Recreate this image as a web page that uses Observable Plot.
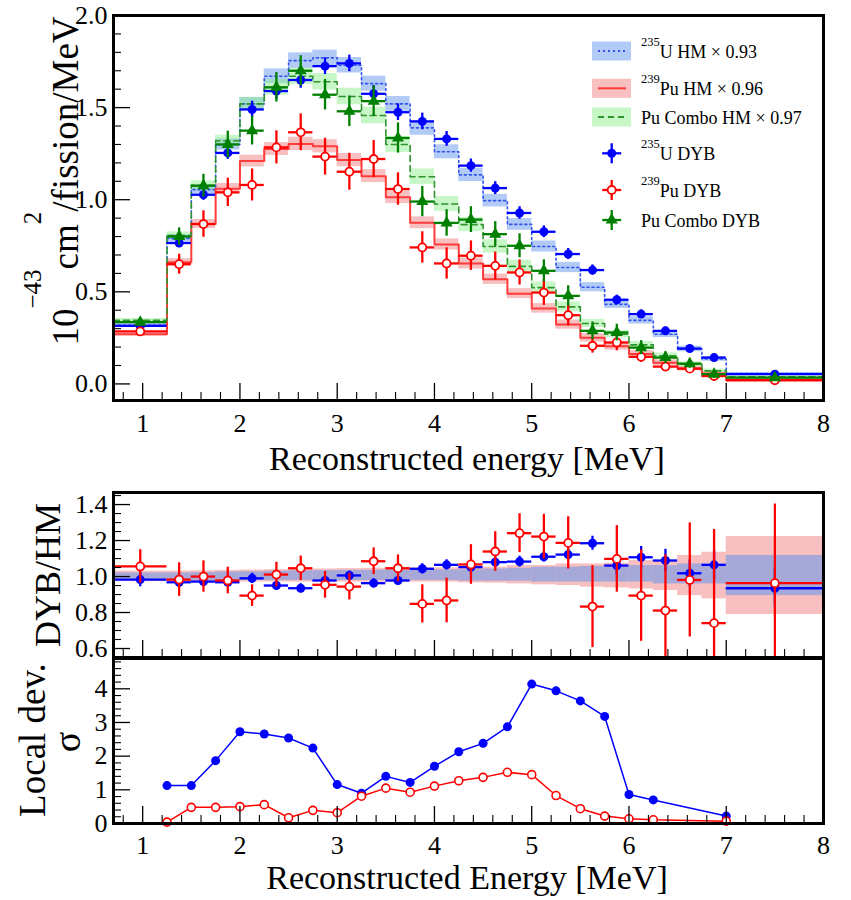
<!DOCTYPE html>
<html><head><meta charset="utf-8">
<script src="https://cdn.jsdelivr.net/npm/d3@7"></script>
<script src="https://cdn.jsdelivr.net/npm/@observablehq/plot@0.6"></script>
<style>
body{margin:0;background:#fff;}
#wrap{position:relative;width:851px;height:900px;font-family:"Liberation Serif","Times New Roman",serif;}
</style></head><body><div id="wrap"></div>
<script>
// ---------- data ----------
const edges = [0.7,1.25,1.5,1.75,2.0,2.25,2.5,2.75,3.0,3.25,3.5,3.75,4.0,4.25,4.5,4.75,5.0,5.25,5.5,5.75,6.0,6.25,6.5,6.75,7.0,8.0];

const u235HM      = [0.32,0.79,1.055,1.30,1.52,1.67,1.755,1.77,1.73,1.63,1.52,1.39,1.26,1.135,0.995,0.866,0.746,0.632,0.525,0.432,0.345,0.27,0.19,0.135,0.056];
const u235HMerr   = [0.01,0.02,0.024,0.03,0.035,0.04,0.042,0.042,0.042,0.041,0.04,0.04,0.038,0.036,0.034,0.032,0.03,0.028,0.025,0.022,0.02,0.018,0.015,0.012,0.006];
const pu239HM     = [0.27,0.66,0.868,1.06,1.21,1.275,1.303,1.29,1.215,1.128,1.013,0.875,0.757,0.654,0.568,0.49,0.41,0.322,0.25,0.205,0.163,0.115,0.084,0.056,0.022];
const pu239HMerr  = [0.01,0.02,0.024,0.028,0.032,0.035,0.036,0.036,0.036,0.035,0.034,0.032,0.03,0.03,0.028,0.027,0.026,0.025,0.023,0.021,0.018,0.016,0.013,0.01,0.006];
const puComboHM   = [0.345,0.805,1.078,1.32,1.52,1.61,1.67,1.64,1.56,1.457,1.30,1.125,0.977,0.865,0.746,0.638,0.523,0.418,0.328,0.27,0.212,0.152,0.107,0.071,0.038];
const puComboHMerr= [0.01,0.02,0.025,0.03,0.036,0.042,0.044,0.045,0.045,0.045,0.044,0.042,0.04,0.038,0.036,0.033,0.03,0.027,0.022,0.02,0.018,0.016,0.013,0.01,0.006];

const u235DYB      = [0.315,0.765,1.027,1.254,1.49,1.59,1.65,1.725,1.74,1.575,1.475,1.425,1.33,1.185,1.063,0.928,0.826,0.705,0.618,0.457,0.379,0.288,0.192,0.143,0.053];
const u235DYBerr   = [0.015,0.025,0.03,0.035,0.045,0.045,0.045,0.045,0.045,0.045,0.045,0.045,0.04,0.036,0.035,0.034,0.032,0.03,0.028,0.025,0.022,0.02,0.018,0.015,0.008];
const pu239DYB     = [0.285,0.65,0.868,1.04,1.08,1.284,1.366,1.234,1.152,1.221,1.058,0.741,0.654,0.696,0.641,0.605,0.496,0.373,0.207,0.225,0.147,0.094,0.083,0.043,0.02];
const pu239DYBerr  = [0.02,0.054,0.072,0.077,0.087,0.09,0.1,0.1,0.1,0.1,0.088,0.085,0.085,0.08,0.075,0.068,0.07,0.058,0.04,0.045,0.03,0.025,0.02,0.015,0.008];
const puComboDYB   = [0.335,0.80,1.076,1.30,1.375,1.61,1.70,1.57,1.48,1.535,1.335,0.99,0.874,0.892,0.813,0.75,0.614,0.478,0.288,0.279,0.197,0.143,0.11,0.053,0.034];
const puComboDYBerr= [0.02,0.047,0.062,0.072,0.078,0.08,0.082,0.083,0.083,0.083,0.082,0.082,0.072,0.07,0.068,0.065,0.06,0.055,0.048,0.045,0.038,0.032,0.025,0.02,0.01];

// ratio DYB/HM
const u235Ratio     = [0.983,0.968,0.972,0.968,0.99,0.95,0.935,0.978,1.006,0.963,0.978,1.043,1.065,1.052,1.08,1.083,1.11,1.122,1.185,1.061,1.107,1.089,1.018,1.065,0.935];
const u235RatioErr  = [0.04,0.03,0.028,0.028,0.028,0.025,0.025,0.025,0.025,0.025,0.025,0.028,0.028,0.03,0.03,0.03,0.03,0.032,0.039,0.055,0.06,0.062,0.074,0.083,0.106];
const pu239Ratio    = [1.056,0.983,1.0,0.978,0.894,1.011,1.046,0.954,0.944,1.085,1.046,0.848,0.867,1.067,1.139,1.241,1.222,1.187,0.833,1.098,0.894,0.811,0.981,0.741,0.963];
const pu239RatioErr = [0.093,0.093,0.087,0.074,0.06,0.068,0.068,0.074,0.074,0.074,0.074,0.106,0.124,0.11,0.11,0.108,0.124,0.145,0.228,0.185,0.254,0.31,0.317,0.52,0.44];
const u235BandLo  = [0.98,0.98,0.979,0.978,0.978,0.978,0.978,0.978,0.978,0.978,0.978,0.978,0.978,0.974,0.974,0.974,0.969,0.969,0.969,0.969,0.969,0.959,0.959,0.959,0.894];
const u235BandHi  = [1.02,1.02,1.022,1.025,1.027,1.03,1.032,1.033,1.034,1.035,1.036,1.037,1.037,1.037,1.042,1.046,1.052,1.052,1.056,1.052,1.061,1.061,1.07,1.07,1.117];
const pu239BandLo = [0.972,0.972,0.971,0.97,0.97,0.97,0.969,0.969,0.969,0.969,0.969,0.969,0.969,0.965,0.963,0.959,0.954,0.95,0.941,0.937,0.931,0.922,0.894,0.876,0.789];
const pu239BandHi = [1.03,1.03,1.032,1.034,1.036,1.038,1.04,1.042,1.044,1.046,1.047,1.048,1.048,1.048,1.052,1.061,1.061,1.07,1.07,1.074,1.089,1.089,1.117,1.135,1.222];

// local deviation
const devEnergy = [1.25,1.5,1.75,2.0,2.25,2.5,2.75,3.0,3.25,3.5,3.75,4.0,4.25,4.5,4.75,5.0,5.25,5.5,5.75,6.0,6.25,7.0];
const u235Dev   = [1.126,1.126,1.867,2.726,2.657,2.54,2.24,1.156,0.90,1.40,1.22,1.70,2.13,2.38,2.87,4.14,3.94,3.64,3.18,0.86,0.70,0.22];
const pu239Dev  = [0.04,0.48,0.48,0.50,0.56,0.17,0.39,0.32,0.81,1.05,0.93,1.11,1.27,1.37,1.52,1.45,0.83,0.44,0.22,0.14,0.11,0.07];

// tick labels
const xMajor = [1,2,3,4,5,6,7,8];
const topYMajor = [0,0.5,1.0,1.5,2.0];
const midYMajor = [0.6,0.8,1.0,1.2,1.4];
const botYMajor = [0,1,2,3,4];

// ---------- tables ----------
const bins = d3.range(edges.length - 1).map(i => ({
  lo: edges[i], hi: edges[i+1], mid: (edges[i] + edges[i+1]) / 2,
  uH: u235HM[i], uHe: u235HMerr[i], pH: pu239HM[i], pHe: pu239HMerr[i], cH: puComboHM[i], cHe: puComboHMerr[i],
  uD: u235DYB[i], uDe: u235DYBerr[i], pD: pu239DYB[i], pDe: pu239DYBerr[i], cD: puComboDYB[i], cDe: puComboDYBerr[i],
  uR: u235Ratio[i], uRe: u235RatioErr[i], pR: pu239Ratio[i], pRe: pu239RatioErr[i],
  uBl: u235BandLo[i], uBh: u235BandHi[i], pBl: pu239BandLo[i], pBh: pu239BandHi[i]
}));
const stepOf = arr => edges.map((e, i) => ({x: e, y: arr[Math.min(i, arr.length - 1)]}));
const dev = devEnergy.map((e, i) => ({e, u: u235Dev[i], p: pu239Dev[i]}));
const xMinor = d3.range(0.8, 8.0, 0.2).map(v => +v.toFixed(2)).filter(v => Math.abs(v - Math.round(v)) > 1e-6);

const BLUE = "#0000ff", RED = "#ff0000", GREEN = "#008000";
const W = 851, ML = 113, MR = 28, PW = W - ML - MR;
const FONT = '"Liberation Serif", "Times New Roman", serif';

function ticksMarks(H, yMajor, yMinor) {
  return [
    Plot.tickX(xMajor.filter(v => v < 8), {x: d => d, insetTop: H - 17, stroke: "black", strokeWidth: 1.3}),
    Plot.tickX(xMinor, {x: d => d, insetTop: H - 8, stroke: "black", strokeWidth: 1.1}),
    Plot.tickY(yMajor, {y: d => d, insetRight: PW - 17, stroke: "black", strokeWidth: 1.3}),
    Plot.tickY(yMinor, {y: d => d, insetRight: PW - 8, stroke: "black", strokeWidth: 1.1})
  ];
}
const baseStyle = {background: "transparent", fontFamily: FONT, fontSize: "26px", color: "black", overflow: "visible"};

// ---------- top panel ----------
const topH = 480, topMT = 15, topMB = 80;
const topMinor = d3.range(0.1, 2.0, 0.1).map(v => +v.toFixed(2)).filter(v => Math.abs(v * 2 - Math.round(v * 2)) > 1e-6);
const topPlot = Plot.plot({
  width: W, height: topH, marginLeft: ML, marginRight: MR, marginTop: topMT, marginBottom: topMB,
  style: baseStyle,
  x: {domain: [0.7, 8], axis: null},
  y: {domain: [-0.09, 2.0], axis: null},
  marks: [
    Plot.rect(bins, {x1: "lo", x2: "hi", y1: d => d.uH - d.uHe, y2: d => d.uH + d.uHe, fill: "#6495ed", fillOpacity: 0.5}),
    Plot.rect(bins, {x1: "lo", x2: "hi", y1: d => d.pH - d.pHe, y2: d => d.pH + d.pHe, fill: "#f08080", fillOpacity: 0.5}),
    Plot.rect(bins, {x1: "lo", x2: "hi", y1: d => d.cH - d.cHe, y2: d => d.cH + d.cHe, fill: "#90ee90", fillOpacity: 0.5}),
    Plot.line(stepOf(u235HM), {x: "x", y: "y", curve: "step-after", stroke: "#3355ee", strokeWidth: 1.6, strokeDasharray: "2,3"}),
    Plot.line(stepOf(pu239HM), {x: "x", y: "y", curve: "step-after", stroke: "#ff3b3b", strokeWidth: 2}),
    Plot.line(stepOf(puComboHM), {x: "x", y: "y", curve: "step-after", stroke: "#2e942e", strokeWidth: 1.6, strokeDasharray: "6,4"}),
    // U235 DYB
    Plot.ruleY(bins, {x1: "lo", x2: "hi", y: "uD", stroke: BLUE, strokeWidth: 2.3}),
    Plot.ruleX(bins, {x: "mid", y1: d => d.uD - d.uDe, y2: d => d.uD + d.uDe, stroke: BLUE, strokeWidth: 2.3}),
    Plot.dot(bins, {x: "mid", y: "uD", r: 4.5, fill: BLUE}),
    // Pu239 DYB
    Plot.ruleY(bins, {x1: "lo", x2: "hi", y: "pD", stroke: RED, strokeWidth: 2.3}),
    Plot.ruleX(bins, {x: "mid", y1: d => d.pD - d.pDe, y2: d => d.pD + d.pDe, stroke: RED, strokeWidth: 2.3}),
    Plot.dot(bins, {x: "mid", y: "pD", r: 4, fill: "white", stroke: RED, strokeWidth: 1.8}),
    // Pu combo DYB
    Plot.ruleY(bins, {x1: "lo", x2: "hi", y: "cD", stroke: GREEN, strokeWidth: 2.3}),
    Plot.ruleX(bins, {x: "mid", y1: d => d.cD - d.cDe, y2: d => d.cD + d.cDe, stroke: GREEN, strokeWidth: 2.3}),
    Plot.dot(bins, {x: "mid", y: "cD", r: 4.5, symbol: "triangle", fill: GREEN}),
    ...ticksMarks(topH - topMT - topMB, topYMajor, topMinor),
    Plot.axisX({ticks: xMajor, tickSize: 0, tickPadding: 13, fontSize: 26, fontFamily: FONT, label: null}),
    Plot.axisY({ticks: topYMajor, tickSize: 0, tickPadding: 6, fontSize: 26, fontFamily: FONT, label: null, tickFormat: d3.format(".1f")}),
    Plot.frame({stroke: "black", strokeWidth: 3})
  ]
});

// ---------- middle panel ----------
const midH = 180, midMT = 12, midMB = 3;
const midMinor = d3.range(0.6, 1.46, 0.05).map(v => +v.toFixed(2)).filter(v => !midYMajor.some(m => Math.abs(m - v) < 1e-6));
const midPlot = Plot.plot({
  width: W, height: midH, marginLeft: ML, marginRight: MR, marginTop: midMT, marginBottom: midMB,
  style: baseStyle,
  x: {domain: [0.7, 8], axis: null},
  y: {domain: [0.55, 1.467], axis: null},
  marks: [
    Plot.rect(bins, {x1: "lo", x2: "hi", y1: "pBl", y2: "pBh", fill: "#f08080", fillOpacity: 0.5}),
    Plot.rect(bins, {x1: "lo", x2: "hi", y1: "uBl", y2: "uBh", fill: "#6495ed", fillOpacity: 0.55}),
    Plot.ruleY(bins, {x1: "lo", x2: "hi", y: "uR", stroke: BLUE, strokeWidth: 2.3, clip: true}),
    Plot.ruleX(bins, {x: "mid", y1: d => d.uR - d.uRe, y2: d => d.uR + d.uRe, stroke: BLUE, strokeWidth: 2.3, clip: true}),
    Plot.dot(bins, {x: "mid", y: "uR", r: 4.5, fill: BLUE, clip: true}),
    Plot.ruleY(bins, {x1: "lo", x2: "hi", y: "pR", stroke: RED, strokeWidth: 2.3, clip: true}),
    Plot.ruleX(bins, {x: "mid", y1: d => d.pR - d.pRe, y2: d => d.pR + d.pRe, stroke: RED, strokeWidth: 2.3, clip: true}),
    Plot.dot(bins, {x: "mid", y: "pR", r: 4, fill: "white", stroke: RED, strokeWidth: 1.8, clip: true}),
    ...ticksMarks(midH - midMT - midMB, midYMajor, midMinor),
    Plot.axisY({ticks: midYMajor, tickSize: 0, tickPadding: 6, fontSize: 26, fontFamily: FONT, label: null, tickFormat: d3.format(".1f")}),
    Plot.frame({stroke: "black", strokeWidth: 3})
  ]
});

// ---------- bottom panel ----------
const botH = 250, botMT = 8, botMB = 77;
const botMinor = d3.range(0.2, 4.9, 0.2).map(v => +v.toFixed(2)).filter(v => Math.abs(v - Math.round(v)) > 1e-6);
const botPlot = Plot.plot({
  width: W, height: botH, marginLeft: ML, marginRight: MR, marginTop: botMT, marginBottom: botMB,
  style: baseStyle,
  x: {domain: [0.7, 8], axis: null},
  y: {domain: [0, 4.9], axis: null},
  marks: [
    Plot.line(dev, {x: "e", y: "u", stroke: BLUE, strokeWidth: 1.5}),
    Plot.line(dev, {x: "e", y: "p", stroke: RED, strokeWidth: 1.5}),
    Plot.dot(dev, {x: "e", y: "u", r: 4.5, fill: BLUE}),
    Plot.dot(dev, {x: "e", y: "p", r: 4, fill: "white", stroke: RED, strokeWidth: 1.6}),
    ...ticksMarks(botH - botMT - botMB, botYMajor, botMinor),
    Plot.axisX({ticks: xMajor, tickSize: 0, tickPadding: 12, fontSize: 26, fontFamily: FONT, label: null}),
    Plot.axisY({ticks: botYMajor, tickSize: 0, tickPadding: 6, fontSize: 26, fontFamily: FONT, label: null, tickFormat: d3.format("d")}),
    Plot.frame({stroke: "black", strokeWidth: 3})
  ]
});

const wrap = document.getElementById("wrap");
function place(el, t) {
  el.style.position = "absolute"; el.style.left = "0px"; el.style.top = t + "px";
  el.style.background = "transparent"; el.style.overflow = "visible";
  wrap.appendChild(el);
}
place(topPlot, 0); place(midPlot, 480); place(botPlot, 650);

// ---------- overlay: titles & legend ----------
const ov = d3.select(wrap).append("svg").attr("width", W).attr("height", 900)
  .style("position", "absolute").style("left", "0px").style("top", "0px").style("pointer-events", "none")
  .attr("font-family", FONT);

const yt = ov.append("text").attr("transform", "translate(78,181) rotate(-90)").attr("text-anchor", "middle").attr("font-size", 37);
yt.append("tspan").text("10");
yt.append("tspan").attr("font-size", 25).attr("dy", -37).text("\u221243");
yt.append("tspan").attr("dy", 37).text("cm");
yt.append("tspan").attr("font-size", 25).attr("dy", -37).text("2");
yt.append("tspan").attr("dy", 37).text("/fission/MeV");

ov.append("text").attr("x", 467).attr("y", 470).attr("text-anchor", "middle").attr("font-size", 34).text("Reconstructed energy [MeV]");
ov.append("text").attr("transform", "translate(60,575) rotate(-90)").attr("text-anchor", "middle").attr("font-size", 36).text("DYB/HM");
ov.append("text").attr("transform", "translate(45,740) rotate(-90)").attr("text-anchor", "middle").attr("font-size", 37).text("Local dev.");
ov.append("text").attr("transform", "translate(80,742) rotate(-90)").attr("text-anchor", "middle").attr("font-size", 38).text("\u03c3");
ov.append("text").attr("x", 467).attr("y", 889).attr("text-anchor", "middle").attr("font-size", 34).text("Reconstructed Energy [MeV]");

// legend
const LX = 592, TX = 641;
function textRow(cy, sup, rest) {
  const t = ov.append("text").attr("x", TX).attr("y", cy + 7).attr("font-size", 18);
  if (sup) { t.append("tspan").attr("font-size", 12.5).attr("dy", -12).text(sup); t.append("tspan").attr("dy", 12).text(rest); }
  else t.text(rest);
}
function bandRow(cy, fill, stroke, dash, sup, rest) {
  ov.append("rect").attr("x", LX).attr("y", cy - 9.5).attr("width", 39).attr("height", 19).attr("fill", fill).attr("fill-opacity", 0.5);
  const ln = ov.append("line").attr("x1", LX + 6).attr("x2", LX + 34).attr("y1", cy).attr("y2", cy).attr("stroke", stroke).attr("stroke-width", 2);
  if (dash) ln.attr("stroke-dasharray", dash);
  textRow(cy, sup, rest);
}
function markRow(cy, color, kind, sup, rest) {
  const cx = 611.7;
  ov.append("line").attr("x1", cx - 9.5).attr("x2", cx + 9.5).attr("y1", cy).attr("y2", cy).attr("stroke", color).attr("stroke-width", 2.3);
  ov.append("line").attr("x1", cx).attr("x2", cx).attr("y1", cy - 10).attr("y2", cy + 10).attr("stroke", color).attr("stroke-width", 2.3);
  if (kind === "fill") ov.append("circle").attr("cx", cx).attr("cy", cy).attr("r", 4.5).attr("fill", color);
  else if (kind === "open") ov.append("circle").attr("cx", cx).attr("cy", cy).attr("r", 4).attr("fill", "white").attr("stroke", color).attr("stroke-width", 1.8);
  else ov.append("path").attr("d", d3.symbol(d3.symbolTriangle, 64)()).attr("transform", `translate(${cx},${cy})`).attr("fill", color);
  textRow(cy, sup, rest);
}
bandRow(51, "#6495ed", "#3355ee", "2,3", "235", "U HM \u00d7 0.93");
bandRow(88.3, "#f08080", "#ff3b3b", null, "239", "Pu HM \u00d7 0.96");
bandRow(117, "#90ee90", "#2e942e", "6,4", null, "Pu Combo HM \u00d7 0.97");
markRow(153.3, BLUE, "fill", "235", "U DYB");
markRow(190, RED, "open", "239", "Pu DYB");
markRow(220, GREEN, "tri", null, "Pu Combo DYB");
</script></body></html>
